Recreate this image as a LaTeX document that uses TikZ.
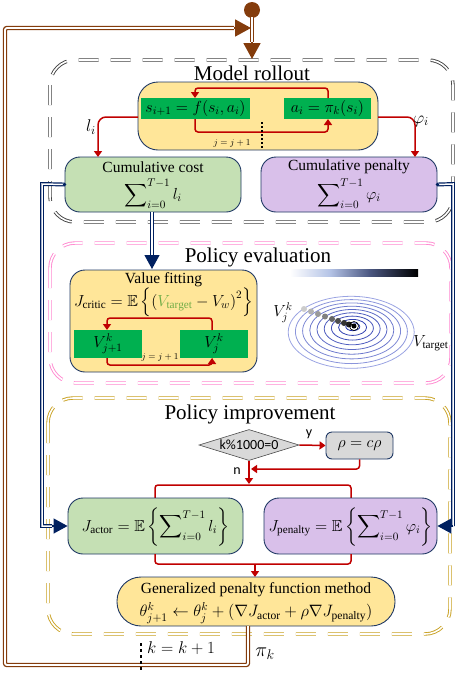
\RequirePackage{fix-cm}
\documentclass[tikz,border=0pt]{standalone}
\usepackage{amssymb}
\usepackage{fontspec}
\setmainfont{Liberation Serif}
\newfontfamily\calib{Carlito}
\usetikzlibrary{arrows.meta,shapes.geometric}
\definecolor{yfill}{HTML}{FFE699}
\definecolor{gfill}{HTML}{C5E0B4}
\definecolor{pfill}{HTML}{D9C0EA}
\definecolor{gbox}{HTML}{00B050}
\definecolor{bord}{HTML}{1F3864}
\definecolor{redc}{HTML}{C00000}
\definecolor{brownc}{HTML}{843C0C}
\definecolor{navyc}{HTML}{002060}
\definecolor{pinkc}{HTML}{FF88D0}
\definecolor{goldc}{HTML}{C8A020}
\definecolor{vtgt}{HTML}{70AD47}
\definecolor{gb1}{HTML}{B4C3E6}
\definecolor{gb2}{HTML}{4A5680}
\definecolor{ellin}{HTML}{2233AA}
\definecolor{ellout}{HTML}{AAB2EA}
\newcommand{\myfs}[1]{\fontsize{#1}{#1}\selectfont}
\tikzset{
  bx/.style={draw=bord, line width=0.9pt, inner sep=0pt},
  ybx/.style={bx, fill=yfill},
  gbx/.style={bx, fill=gfill, rounded corners=15pt, minimum width=176pt, minimum height=55pt},
  pbx/.style={bx, fill=pfill, rounded corners=15pt, minimum width=176pt, minimum height=55pt},
  grn/.style={fill=gbox, inner sep=0pt, font=\myfs{16}},
  txt/.style={inner sep=0pt},
  redl/.style={draw=redc, line width=1.5pt, rounded corners=3pt},
  reda/.style={redl, -{Triangle[width=8pt,length=6pt]}},
  navyd/.style={draw=navyc, double=white, double distance=1.5pt, line width=1.2pt},
  navya/.style={draw=navyc, line width=1.2pt, -{Triangle[width=15pt,length=14pt]}},
  brownd/.style={draw=brownc, double=white, double distance=1.8pt, line width=1.3pt},
  browna/.style={draw=brownc, line width=1.8pt, -{Triangle[width=17pt,length=16pt]}},
  dbox/.style={double=white, double distance=1.6pt, line width=0.9pt, dash pattern=on 20pt off 12pt, rounded corners=25pt}
}
\begin{document}
\begin{tikzpicture}[x=1pt,y=-1pt]
\useasboundingbox (0,0) rectangle (456,673);
% dashed group boxes
\draw[dbox, draw=black!75] (50,60) rectangle (453,222);
\draw[dbox, draw=pinkc] (50,243) rectangle (451,383);
\draw[dbox, draw=goldc] (48,398) rectangle (450,634);
% titles
\node[txt, font=\myfs{21}] (tmr) at (252,73) {Model rollout};
\node[txt, font=\myfs{21}] (tpe) at (258,257) {Policy evaluation};
\node[txt, font=\myfs{21}] (tpi) at (250,414) {Policy improvement};
% model rollout
\node[ybx, rounded corners=20pt, minimum width=240pt, minimum height=68pt] (roll) at (258,116) {};
\node[grn, minimum width=109pt, minimum height=21pt] (sbox) at (195.5,108.5) {$s_{i+1} = f(s_i, a_i)$};
\node[grn, minimum width=87pt, minimum height=21pt] (abox) at (327.5,108.5) {$a_i = \pi_k(s_i)$};
\coordinate (sl) at (195,98); \coordinate (sb) at (195,119);
\coordinate (at) at (328,98); \coordinate (ab) at (328,119);
\draw[reda] (at) -- (328,88) -- (195,88) -- (sl);
\draw[reda] (sb) -- (195,132) -- (328,132) -- (ab);
\node[txt, font=\myfs{9}] (jl1) at (232,143) {$j=j+1$};
\draw[line width=1.4pt, dash pattern=on 2pt off 2pt] (262,122) -- (262,148);
% cumulative boxes
\node[gbx] (cost) at (153,184.5) {};
\node[pbx] (pen) at (349,184.5) {};
\node[txt, font=\myfs{15.5}] (costt) at (153,167) {Cumulative cost};
\node[txt, font=\myfs{16}] (costs) at (153,194) {$\displaystyle\sum\nolimits_{i=0}^{T-1} l_i$};
\node[txt, font=\myfs{15.5}] (pent) at (349,167) {Cumulative penalty};
\node[txt, font=\myfs{16}] (pens) at (349,194) {$\displaystyle\sum\nolimits_{i=0}^{T-1} \varphi_i$};
\draw[reda, rounded corners=8pt] (138,117) -- (98,117) -- (98,157);
\draw[reda, rounded corners=8pt] (378,117) -- (415,117) -- (415,157);
\node[txt, font=\myfs{17}] (li) at (91,127) {$l_i$};
\node[txt, font=\myfs{17}] (phii) at (421,121) {$\varphi_i$};
% policy evaluation
\node[ybx, rounded corners=15pt, minimum width=187pt, minimum height=102pt] (vf) at (163.5,321) {};
\node[txt, font=\myfs{15.5}] (vft) at (163.5,280) {Value fitting};
\node[txt, font=\myfs{16}] (jc) at (163.5,302.5) {$J_{\mathrm{critic}} = \mathbb{E}\left\{\left({\color{vtgt}V_{\mathrm{target}}} - V_w\right)^2\right\}$};
\node[grn, minimum width=68pt, minimum height=28pt] (v1) at (108,344) {$V_{j+1}^k$};
\node[grn, minimum width=68pt, minimum height=28pt] (v2) at (214,344) {$V_j^k$};
\draw[reda] (212,330) -- (212,318) -- (107,318) -- (107,330);
\draw[reda] (107,358) -- (107,365) -- (212,365) -- (212,358);
\node[txt, font=\myfs{9}] (jl2) at (160,357) {$j=j+1$};
% gradient bar
\shade[left color=white, right color=gb1] (290,269) rectangle (330,276);
\shade[left color=gb1, right color=gb2] (329.8,269) rectangle (370,276);
\shade[left color=gb2, right color=black] (369.8,269) rectangle (418,276);
% ellipses
\foreach \k in {1,...,9}{
  \pgfmathsetmacro\p{100-(\k-1)*11}
  \draw[line width=0.8pt, ellin!\p!ellout] ({353-0.2*\k},{326+0.7*\k}) ellipse [x radius={7*\k pt}, y radius={4*\k pt}];
}
\foreach \x/\y/\g in {304/309/20,311/311.5/30,318/314/40,325/316.5/50,332/319/60,338/321/70,344/323/80,349/324.5/88}{
  \fill[black!\g] (\x,\y) circle [radius=3pt];
}
\draw[black, line width=0.6pt] (354,326) circle [radius=4.5pt];
\fill[black] (354,326) circle [radius=2.5pt];
\node[txt, font=\myfs{16}] (vjk) at (283,313) {$V_j^k$};
\node[txt, font=\myfs{16}] (vt) at (431,343) {$V_{\mathrm{target}}$};
% policy improvement
\node[diamond, draw=black!70, fill=black!15, line width=0.6pt, inner sep=0pt, minimum width=100pt, minimum height=31pt] (dia) at (249,445) {\makebox[0pt]{\calib\myfs{14}k\%1000=0}};
\node[bx, fill=black!15, rounded corners=6pt, minimum width=67pt, minimum height=27pt, font=\myfs{16}] (rho) at (359.5,445.5) {$\rho = c\rho$};
\draw[reda] (dia.east) -- (rho.west);
\node[txt, font=\calib\myfs{14}] (ylab) at (309,434) {y};
\draw[reda] (rho.south) -- (359.5,469) -- (251,469);
\draw[reda] (dia.south) -- (249,484);
\node[txt, font=\calib\myfs{14}] (nlab) at (237,471) {n};
\draw[redl] (155,498) -- (155,485) -- (351,485) -- (351,498);
\node[gbx, minimum width=175pt, minimum height=56pt] (ja) at (155.5,526) {};
\node[pbx, minimum width=173pt, minimum height=56pt] (jp) at (350.5,526) {};
\node[txt, font=\myfs{16}] (jat) at (155.5,527) {$J_{\mathrm{actor}} = \mathbb{E}\left\{\displaystyle\sum\nolimits_{i=0}^{T-1} l_i\right\}$};
\node[txt, font=\myfs{16}] (jpt) at (350.5,527) {$J_{\mathrm{penalty}} = \mathbb{E}\left\{\displaystyle\sum\nolimits_{i=0}^{T-1} \varphi_i\right\}$};
\draw[redl] (155,554) -- (155,564) -- (351,564) -- (351,554);
\draw[reda] (255,564) -- (255,577);
\node[ybx, rounded corners=24pt, minimum width=278pt, minimum height=49pt] (gen) at (256,601.5) {};
\node[txt, font=\myfs{15.5}] (gent) at (256,590) {Generalized penalty function method};
\node[txt, font=\myfs{16.5}] (genf) at (256,613) {$\theta_{j+1}^k \leftarrow \theta_j^k + (\nabla J_{\mathrm{actor}} + \rho\nabla J_{\mathrm{penalty}})$};
% navy connectors
\coordinate (nl1) at (42,184); \coordinate (nl2) at (42,526); \coordinate (nl3) at (52,526);
\draw[navyd] (cost.west) -- (nl1) -- (nl2) -- (nl3);
\draw[navya] (nl3) -- (ja.west);
\fill[navyc] (cost.west) circle [radius=1.8pt];
\coordinate (nb1) at (152,256);
\draw[navyd] (152,212) -- (nb1);
\draw[navya] (nb1) -- (152,269);
\coordinate (nr1) at (453,184); \coordinate (nr2) at (453,526);
\draw[navyd] (pen.east) -- (nr1) -- (nr2);
\draw[navya] (nr2) -- (jp.east);
\fill[navyc] (pen.east) circle [radius=1.8pt];
% brown loop
\coordinate (b0) at (248,626);
\coordinate (b1) at (248,665); \coordinate (b2) at (5,665); \coordinate (b3) at (5,28); \coordinate (b4) at (234,28);
\draw[brownd, rounded corners=2pt] (b0) -- (b1) -- (b2) -- (b3) -- (b4);
\draw[browna] (b4) -- (251,28);
\fill[brownc] (252,10) circle [radius=8pt];
\coordinate (c1) at (252,42);
\draw[brownd] (252,17) -- (c1);
\draw[browna] (c1) -- (252,59);
\node[txt, font=\myfs{17}] (kk) at (181,648) {$k = k + 1$};
\draw[line width=1.2pt, dash pattern=on 3pt off 3pt] (141,643) -- (141,673);
\node[txt, font=\myfs{20}] (pik) at (265,654) {$\pi_k$};
\end{tikzpicture}
\end{document}
